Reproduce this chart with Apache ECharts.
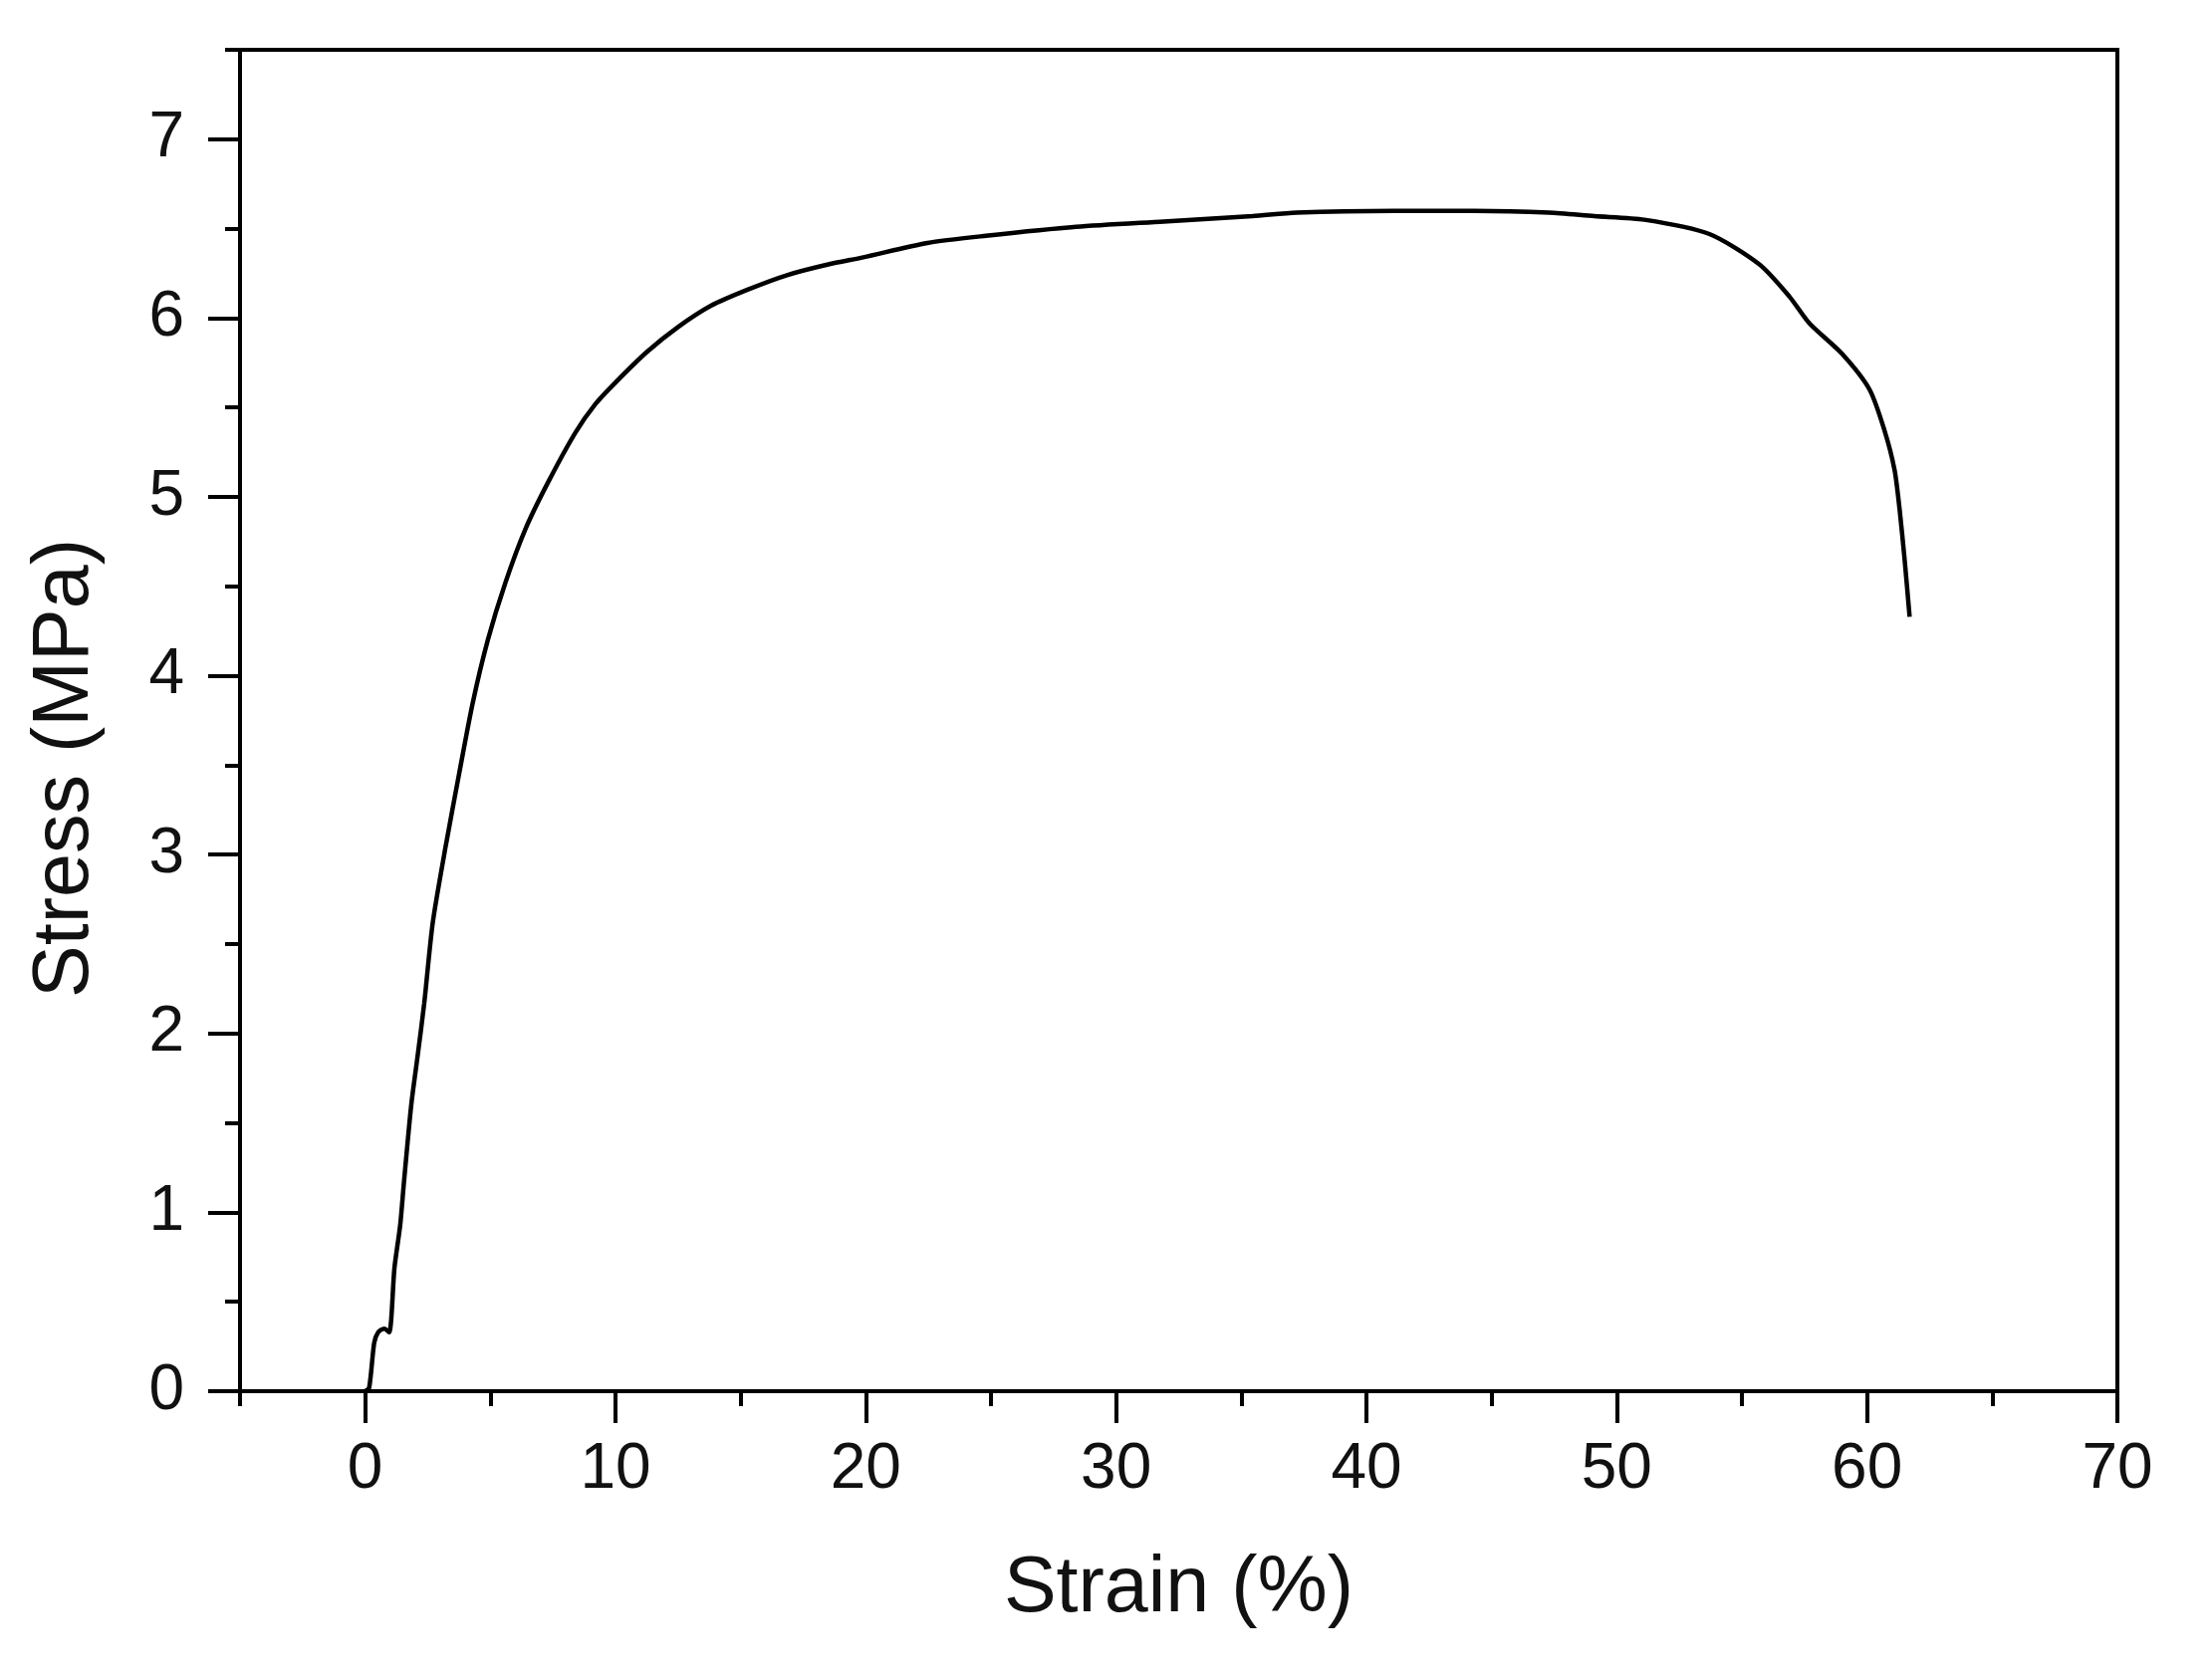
<!DOCTYPE html>
<html>
<head>
<meta charset="utf-8">
<script src="https://cdn.jsdelivr.net/npm/echarts@6/dist/echarts.min.js"></script>
<style>
  html, body { margin: 0; padding: 0; background: #ffffff; }
  #chart { width: 2221px; height: 1686px; }
</style>
</head>
<body>
<div id="chart"></div>
<script>
  // strain (%) and stress (MPa)
  var strain = [0, 0.16, 0.36, 0.52, 0.76, 0.96, 1.17, 1.40, 1.55, 1.84, 2.11, 2.36,
    2.70, 3.22, 3.75, 4.30, 4.90, 5.60, 6.40, 7.30, 8.40, 9.2, 10.0, 11.25, 12.5,
    13.83, 15.3, 16.85, 18.5, 19.9, 22.46, 24.8, 28.4, 31.9, 35.45, 37.2, 41.1,
    44.3, 47.3, 49.1, 51.1, 53.7, 55.7, 56.9, 57.7, 59.0, 60.1, 60.7, 61.1,
    61.3, 61.5, 61.7]
  var stress = [0, 0.02, 0.27, 0.33, 0.35, 0.33, 0.69, 0.93, 1.17, 1.60, 1.89, 2.17,
    2.62, 3.05, 3.45, 3.85, 4.20, 4.52, 4.82, 5.08, 5.36, 5.52, 5.64, 5.81, 5.95,
    6.07, 6.16, 6.24, 6.30, 6.34, 6.42, 6.46, 6.51, 6.54, 6.57, 6.59, 6.60,
    6.60, 6.59, 6.57, 6.55, 6.47, 6.30, 6.12, 5.97, 5.80, 5.60, 5.37, 5.15,
    4.93, 4.65, 4.33]

  var xMajor = [0, 10, 20, 30, 40, 50, 60, 70]
  var yMajor = [0, 1, 2, 3, 4, 5, 6, 7]

  var points = []
  for (var i = 0; i < strain.length; i++) {
    points.push([strain[i], stress[i]])
  }

  var font = 'Liberation Sans, Arial, sans-serif'
  var chart = echarts.init(document.getElementById('chart'))

  chart.setOption({
    backgroundColor: '#ffffff',
    animation: false,
    grid: {
      left: 241, right: 95, top: 50, bottom: 289,
      show: true, borderColor: '#000', borderWidth: 4,
      outerBoundsMode: 'none'
    },
    xAxis: [{
      type: 'value', min: -5, max: 70,
      name: 'Strain (%)', nameLocation: 'middle', nameGap: 160,
      nameTextStyle: { color: '#111', fontSize: 79, fontFamily: font },
      axisLine: { onZero: false, lineStyle: { color: '#000', width: 4 } },
      axisTick: { customValues: xMajor, length: 32, lineStyle: { color: '#000', width: 4 } },
      axisLabel: { customValues: xMajor, margin: 47, color: '#111', fontSize: 64, fontFamily: font },
      splitLine: { show: false }
    }, {
      // minor ticks
      type: 'value', min: -5, max: 70, interval: 5, position: 'bottom',
      axisLine: { show: false, onZero: false },
      axisTick: { length: 15, lineStyle: { color: '#000', width: 4 } },
      axisLabel: { show: false },
      splitLine: { show: false }
    }],
    yAxis: [{
      type: 'value', min: 0, max: 7.5,
      name: 'Stress (MPa)', nameLocation: 'middle', nameGap: 135,
      nameTextStyle: { color: '#111', fontSize: 79, fontFamily: font, padding: [0, 96, 0, 0] },
      axisLine: { onZero: false, lineStyle: { color: '#000', width: 4 } },
      axisTick: { customValues: yMajor, length: 32, lineStyle: { color: '#000', width: 4 } },
      axisLabel: { customValues: yMajor, margin: 56, color: '#111', fontSize: 64, fontFamily: font },
      splitLine: { show: false }
    }, {
      // minor ticks
      type: 'value', min: 0, max: 7.5, interval: 0.5, position: 'left',
      axisLine: { show: false, onZero: false },
      axisTick: { length: 15, lineStyle: { color: '#000', width: 4 } },
      axisLabel: { show: false },
      splitLine: { show: false }
    }],
    series: [{
      type: 'line',
      xAxisIndex: 0,
      yAxisIndex: 0,
      data: points,
      smooth: 0.25,
      showSymbol: false,
      lineStyle: { color: '#000', width: 4.5 }
    }]
  })
</script>
</body>
</html>
